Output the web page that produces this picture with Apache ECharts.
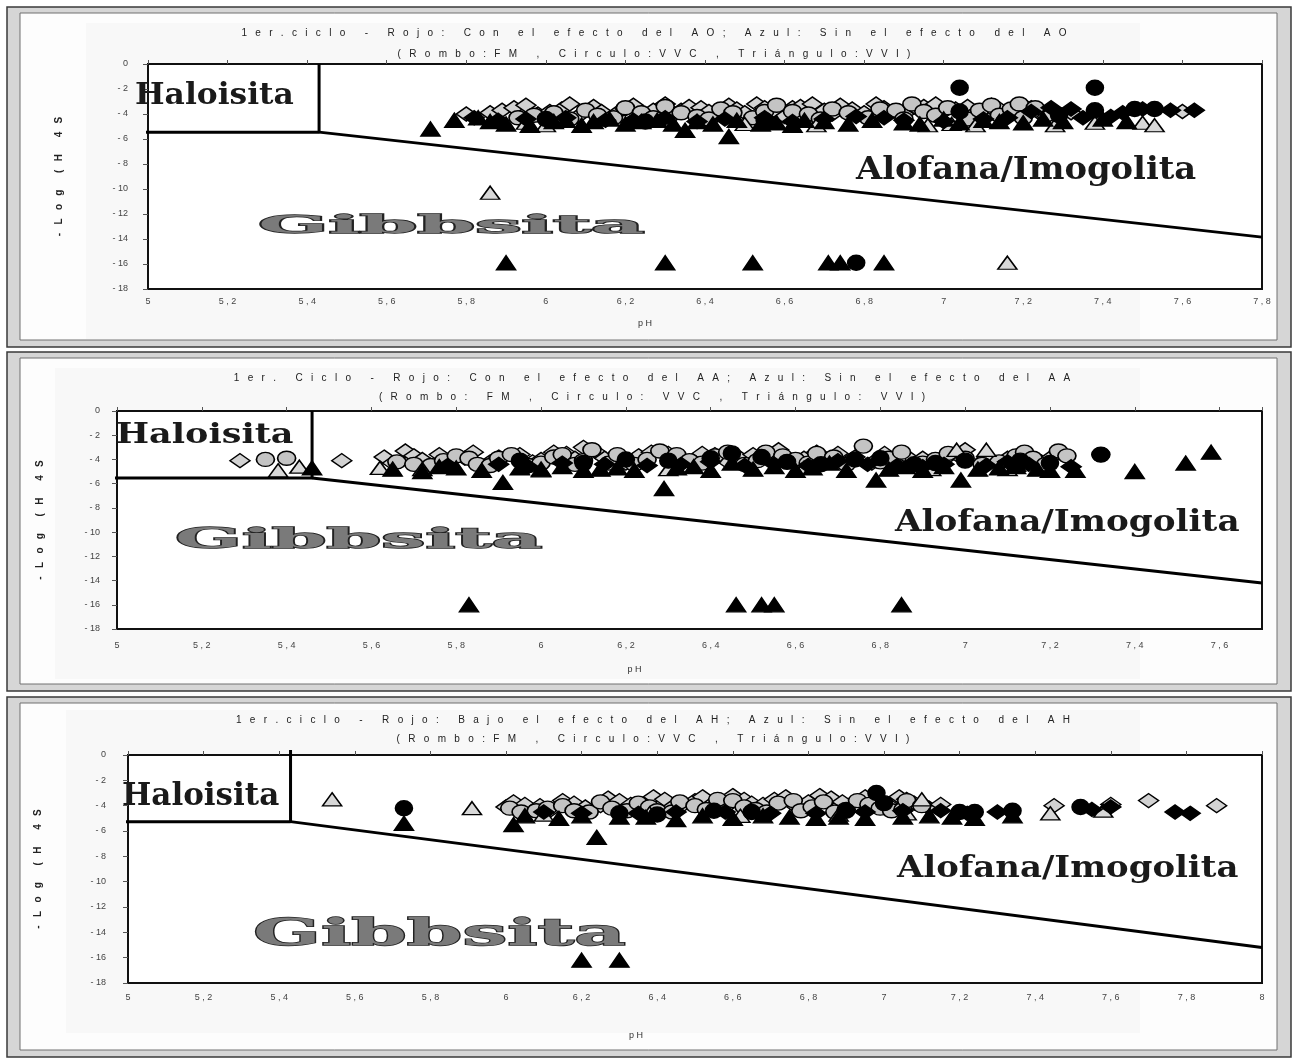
<!DOCTYPE html>
<html><head><meta charset="utf-8">
<script src="https://cdn.jsdelivr.net/npm/echarts@6/dist/echarts.min.js"></script>
<style>html,body{margin:0;padding:0;background:#fff}#c{width:1293px;height:1060px}</style>
</head><body><div id="c"></div>
<script>
// ---------------- DATA ----------------
const titles1 = [
  "1er.ciclo - Rojo: Con el efecto del AO; Azul: Sin el efecto del AO",
  "1er. Ciclo - Rojo: Con el efecto del AA; Azul: Sin el efecto del AA",
  "1er.ciclo - Rojo: Bajo el efecto del AH; Azul: Sin el efecto del AH"
];
const titles2 = [
  "(Rombo:FM , Circulo:VVC , Triángulo:VVI)",
  "(Rombo: FM , Circulo: VVC , Triángulo: VVI)",
  "(Rombo:FM , Circulo:VVC , Triángulo:VVI)"
];
const yName = "-Log (H4S";
const xName = "pH";
const zoneNames = ["Haloisita", "Alofana/Imogolita", "Gibbsita"];
const xMax = [7.8, 7.7, 8];

// boundaries: [pH, -log]
const p1Halo = [[4.92, -5.45], [5.43, -5.45], [5.43, 0]];
const p1Diag = [[5.43, -5.45], [7.8, -13.85]];
const p2Halo = [[4.97, -5.53], [5.46, -5.53], [5.46, 0]];
const p2Diag = [[5.46, -5.53], [7.7, -14.2]];
const p3Halo = [[4.94, -5.26], [5.43, -5.26], [5.43, 0.4]];
const p3Diag = [[5.43, -5.26], [8.0, -15.2]];

// Panel 1 (AO)
const p1FmSin = [[5.8,-4.0],[5.86,-3.9],[5.89,-3.7],[5.92,-3.5],[5.95,-3.3],[5.98,-4.0],[6.01,-3.8],[6.04,-3.6],[6.06,-3.2],[6.08,-4.2],[6.12,-3.4],[6.14,-3.8],[6.18,-3.9],[6.2,-3.6],[6.22,-3.3],[6.25,-4.0],[6.27,-3.7],[6.3,-3.2],[6.32,-4.1],[6.34,-3.7],[6.36,-3.4],[6.39,-3.5],[6.41,-3.8],[6.44,-4.0],[6.46,-3.3],[6.48,-3.6],[6.5,-3.9],[6.53,-3.2],[6.55,-3.5],[6.57,-3.8],[6.6,-4.2],[6.62,-3.5],[6.64,-3.4],[6.67,-3.2],[6.7,-3.7],[6.72,-4.0],[6.74,-3.3],[6.77,-3.6],[6.8,-3.9],[6.83,-3.2],[6.85,-3.5],[6.88,-3.8],[6.9,-4.0],[6.93,-3.5],[6.95,-3.4],[6.98,-3.2],[7.0,-3.8],[7.03,-3.6],[7.06,-3.4],[7.08,-3.9],[7.1,-4.2],[7.12,-3.3],[7.14,-3.6],[7.17,-3.9],[7.2,-3.3],[7.22,-3.5],[7.24,-3.9],[7.26,-4.2],[7.32,-3.9],[7.6,-3.8]];
const p1FmCon = [[5.82,-4.3],[5.88,-4.5],[5.95,-4.4],[6.05,-4.3],[6.15,-4.5],[6.22,-4.5],[6.3,-4.3],[6.38,-4.6],[6.45,-4.4],[6.55,-4.3],[6.62,-4.6],[6.7,-4.4],[6.78,-4.2],[6.85,-4.3],[6.9,-4.5],[7.0,-4.6],[7.1,-4.4],[7.16,-4.3],[7.22,-3.8],[7.27,-3.5],[7.32,-3.6],[7.35,-4.3],[7.42,-4.2],[7.45,-3.9],[7.5,-3.6],[7.57,-3.7],[7.63,-3.7]];
const p1VvcSin = [[5.93,-4.3],[5.97,-4.1],[6.02,-3.9],[6.06,-4.4],[6.1,-3.7],[6.13,-4.1],[6.17,-4.3],[6.2,-3.5],[6.24,-3.9],[6.27,-4.3],[6.3,-3.4],[6.34,-3.9],[6.38,-4.2],[6.41,-4.4],[6.44,-3.6],[6.47,-3.9],[6.52,-4.3],[6.55,-3.8],[6.58,-3.3],[6.62,-3.8],[6.66,-4.0],[6.69,-4.4],[6.72,-3.6],[6.76,-3.9],[6.81,-4.3],[6.84,-3.6],[6.88,-3.7],[6.9,-4.4],[6.92,-3.2],[6.95,-3.8],[6.98,-4.1],[7.01,-3.5],[7.06,-4.4],[7.09,-3.7],[7.12,-3.3],[7.14,-4.1],[7.17,-3.6],[7.19,-3.2],[7.2,-4.3],[7.23,-3.5]];
const p1VvcCon = [[7.04,-1.9],[7.38,-1.9],[7.04,-3.8],[7.29,-4.1],[7.38,-3.7],[7.48,-3.6],[7.53,-3.6],[6.0,-4.4],[6.25,-4.6],[6.55,-4.5],[6.78,-15.9]];
const p1VviSin = [[5.86,-10.3],[7.16,-15.9],[5.95,-4.7],[6.0,-4.9],[6.22,-4.6],[6.5,-4.8],[6.68,-4.9],[6.96,-4.9],[7.02,-4.8],[7.08,-4.9],[7.28,-4.9],[7.38,-4.7],[7.5,-4.7],[7.53,-4.9]];
const p1VviCon = [[5.71,-5.2],[5.77,-4.5],[5.83,-4.3],[5.86,-4.6],[5.9,-4.8],[5.9,-15.9],[5.96,-4.9],[6.02,-4.6],[6.05,-4.5],[6.09,-4.9],[6.12,-4.6],[6.16,-4.4],[6.2,-4.8],[6.24,-4.6],[6.28,-4.5],[6.3,-15.9],[6.32,-4.8],[6.35,-5.3],[6.38,-4.6],[6.42,-4.8],[6.46,-5.8],[6.48,-4.5],[6.52,-15.9],[6.54,-4.8],[6.58,-4.7],[6.62,-4.9],[6.65,-4.5],[6.7,-4.6],[6.71,-15.9],[6.74,-15.9],[6.76,-4.8],[6.82,-4.5],[6.85,-15.9],[6.9,-4.7],[6.94,-4.8],[7.0,-4.4],[7.04,-4.7],[7.1,-4.5],[7.14,-4.6],[7.2,-4.7],[7.25,-4.4],[7.3,-4.6],[7.4,-4.4],[7.46,-4.6]];

// Panel 2 (AA)
const p2FmSin = [[5.29,-4.1],[5.53,-4.1],[5.63,-3.8],[5.65,-4.3],[5.68,-3.3],[5.7,-3.7],[5.72,-4.0],[5.76,-3.6],[5.78,-4.2],[5.82,-3.9],[5.84,-3.4],[5.88,-4.2],[5.9,-3.8],[5.95,-3.6],[5.98,-4.2],[6.0,-4.0],[6.03,-3.4],[6.06,-3.5],[6.08,-3.9],[6.1,-3.0],[6.13,-3.4],[6.15,-3.9],[6.18,-4.1],[6.2,-4.3],[6.23,-3.7],[6.26,-3.4],[6.3,-3.5],[6.33,-3.9],[6.35,-4.2],[6.38,-3.5],[6.41,-3.6],[6.44,-4.2],[6.47,-3.9],[6.5,-3.6],[6.53,-3.7],[6.56,-3.2],[6.59,-4.1],[6.62,-3.9],[6.65,-3.4],[6.7,-3.5],[6.74,-3.8],[6.78,-4.3],[6.81,-3.5],[6.86,-3.7],[6.9,-3.9],[6.95,-4.0],[6.98,-3.6],[7.0,-3.2],[7.05,-3.9],[7.1,-3.9],[7.14,-3.6],[7.18,-4.2],[7.2,-3.9]];
const p2FmCon = [[5.78,-4.5],[5.9,-4.4],[5.97,-4.6],[6.05,-4.3],[6.15,-4.4],[6.25,-4.5],[6.33,-4.4],[6.4,-4.2],[6.48,-4.5],[6.55,-4.4],[6.63,-4.5],[6.7,-4.1],[6.77,-4.4],[6.84,-4.5],[6.9,-4.6],[6.95,-4.4],[7.05,-4.5],[7.1,-4.2],[7.15,-4.4],[7.25,-4.6]];
const p2VvcSin = [[5.35,-4.0],[5.40,-3.9],[5.66,-4.2],[5.7,-4.4],[5.74,-4.5],[5.77,-4.1],[5.8,-3.7],[5.83,-3.9],[5.85,-4.4],[5.88,-4.5],[5.9,-3.9],[5.93,-3.6],[5.97,-4.5],[6.0,-4.3],[6.03,-3.8],[6.05,-3.6],[6.08,-4.4],[6.1,-4.1],[6.12,-3.2],[6.16,-4.3],[6.18,-3.6],[6.22,-4.4],[6.25,-4.0],[6.28,-3.3],[6.32,-3.6],[6.35,-4.1],[6.38,-4.3],[6.41,-3.7],[6.44,-3.4],[6.48,-4.4],[6.51,-4.1],[6.53,-3.4],[6.57,-3.7],[6.6,-4.0],[6.63,-4.3],[6.65,-3.5],[6.69,-3.8],[6.72,-4.4],[6.76,-2.9],[6.8,-4.2],[6.82,-3.9],[6.85,-3.4],[6.9,-4.3],[6.93,-4.0],[6.96,-3.5],[7.0,-3.9],[7.04,-4.4],[7.08,-4.2],[7.12,-3.7],[7.14,-3.4],[7.16,-3.9],[7.19,-4.4],[7.22,-3.3],[7.24,-3.7],[7.32,-3.6]];
const p2VvcCon = [[5.95,-4.1],[6.1,-4.3],[6.2,-4.0],[6.3,-4.1],[6.4,-3.9],[6.45,-3.5],[6.52,-3.8],[6.58,-4.2],[6.66,-4.4],[6.74,-4.0],[6.8,-3.9],[6.88,-4.4],[6.93,-4.3],[7.0,-4.1],[7.13,-4.1],[7.2,-4.3],[7.32,-3.6]];
const p2VviSin = [[5.38,-4.9],[5.43,-4.6],[5.62,-4.7],[5.72,-4.8],[6.0,-4.9],[6.3,-4.8],[6.62,-4.7],[6.98,-3.2],[7.05,-3.2],[6.92,-4.8],[7.1,-4.8]];
const p2VviCon = [[5.46,-4.7],[5.65,-4.8],[5.72,-5.0],[5.76,-4.6],[5.8,-4.7],[5.86,-4.9],[5.91,-5.9],[5.95,-4.7],[6.0,-4.8],[6.05,-4.6],[6.1,-4.9],[6.14,-4.8],[6.18,-4.7],[6.22,-4.9],[6.29,-6.4],[6.32,-4.7],[6.36,-4.6],[6.4,-4.9],[6.45,-4.3],[6.5,-4.8],[6.55,-4.6],[6.6,-4.9],[6.64,-4.7],[6.68,-4.3],[6.72,-4.9],[6.79,-5.7],[6.82,-4.8],[6.86,-4.6],[6.9,-4.9],[6.95,-4.6],[6.99,-5.7],[7.03,-4.8],[7.08,-4.7],[7.12,-4.6],[7.12,-4.4],[7.17,-4.8],[7.2,-4.9],[7.26,-4.9],[7.4,-5.0],[7.52,-4.3],[7.58,-3.4],[5.83,-16],[6.46,-16],[6.52,-16],[6.55,-16],[6.85,-16]];

// Panel 3 (AH)
const p3FmSin = [[6.0,-4.1],[6.02,-3.7],[6.05,-3.9],[6.09,-4.0],[6.12,-4.3],[6.15,-3.6],[6.18,-3.8],[6.21,-4.1],[6.25,-4.0],[6.27,-3.4],[6.3,-3.6],[6.33,-3.9],[6.36,-4.3],[6.39,-3.3],[6.42,-3.5],[6.44,-4.1],[6.47,-3.9],[6.5,-3.6],[6.52,-3.3],[6.55,-4.0],[6.58,-4.1],[6.6,-3.2],[6.63,-3.5],[6.65,-3.8],[6.68,-3.9],[6.71,-3.5],[6.74,-3.3],[6.77,-4.1],[6.8,-3.7],[6.83,-3.2],[6.86,-3.4],[6.89,-3.7],[6.92,-4.0],[6.95,-3.3],[6.98,-3.6],[7.01,-3.9],[7.04,-3.3],[7.06,-3.5],[7.08,-3.8],[7.12,-4.2],[7.15,-3.9],[7.45,-4.0],[7.6,-3.9],[7.7,-3.6],[7.88,-4.0]];
const p3FmCon = [[6.1,-4.5],[6.2,-4.6],[6.35,-4.6],[6.45,-4.5],[6.58,-4.5],[6.7,-4.6],[6.82,-4.6],[6.95,-4.5],[7.05,-4.4],[7.15,-4.4],[7.22,-4.6],[7.3,-4.5],[7.55,-4.3],[7.6,-4.1],[7.77,-4.5],[7.81,-4.6]];
const p3VvcSin = [[6.01,-4.2],[6.04,-4.5],[6.08,-4.4],[6.11,-4.2],[6.15,-4.0],[6.18,-4.4],[6.22,-4.5],[6.25,-3.7],[6.28,-4.2],[6.32,-4.4],[6.35,-3.8],[6.38,-4.1],[6.4,-4.4],[6.44,-4.5],[6.46,-3.7],[6.5,-4.0],[6.53,-4.3],[6.56,-3.5],[6.6,-3.6],[6.63,-4.1],[6.66,-4.3],[6.69,-4.5],[6.72,-3.8],[6.76,-3.6],[6.78,-4.4],[6.81,-4.1],[6.84,-3.7],[6.87,-4.5],[6.9,-4.3],[6.93,-3.6],[6.96,-3.9],[6.99,-4.2],[7.02,-4.4],[7.05,-4.3],[7.06,-3.6],[7.1,-4.0]];
const p3VvcCon = [[5.73,-4.2],[6.3,-4.6],[6.4,-4.7],[6.55,-4.4],[6.65,-4.5],[6.9,-4.4],[6.98,-3.0],[7.0,-3.8],[7.2,-4.5],[7.24,-4.5],[7.34,-4.4],[7.52,-4.1]];
const p3VviSin = [[5.54,-3.5],[5.91,-4.2],[6.1,-4.7],[6.38,-4.6],[6.62,-4.8],[6.88,-4.7],[7.06,-4.6],[7.1,-3.5],[7.44,-4.6],[7.58,-4.4]];
const p3VviCon = [[5.73,-5.4],[6.02,-5.5],[6.05,-4.8],[6.14,-5.0],[6.2,-4.8],[6.24,-6.5],[6.2,-16.2],[6.3,-16.2],[6.3,-4.9],[6.37,-4.9],[6.45,-5.1],[6.52,-4.8],[6.6,-5.0],[6.68,-4.8],[6.75,-4.9],[6.82,-5.0],[6.88,-4.9],[6.95,-5.0],[7.05,-4.9],[7.12,-4.8],[7.18,-4.9],[7.24,-5.0],[7.34,-4.8]];

const panelsData = [
  {halo:p1Halo, diag:p1Diag, fmSin:p1FmSin, fmCon:p1FmCon, vvcSin:p1VvcSin, vvcCon:p1VvcCon, vviSin:p1VviSin, vviCon:p1VviCon},
  {halo:p2Halo, diag:p2Diag, fmSin:p2FmSin, fmCon:p2FmCon, vvcSin:p2VvcSin, vvcCon:p2VvcCon, vviSin:p2VviSin, vviCon:p2VviCon},
  {halo:p3Halo, diag:p3Diag, fmSin:p3FmSin, fmCon:p3FmCon, vvcSin:p3VvcSin, vvcCon:p3VvcCon, vviSin:p3VviSin, vviCon:p3VviCon}
];

// ---------------- LAYOUT ----------------
const layout = [
  {frame:[7,7,1284,340], grid:{left:148, top:64, width:1114, height:225}, t1y:33, t2y:54, tx:654,
   yGap:84, yMargin:20, xMargin:8, xGap:30, xShift:120,
   halo:[135,96,29,1.08], alo:[856,171,31,1.09], gib:[258,226,25,3.3]},
  {frame:[7,352,1284,339], grid:{left:117, top:411, width:1145, height:218}, t1y:378, t2y:397, tx:652,
   yGap:72, yMargin:17, xMargin:12, xGap:36, xShift:110,
   halo:[116,436,28,1.25], alo:[895,523,29,1.18], gib:[175,541,28,2.8]},
  {frame:[7,697,1284,360], grid:{left:128, top:755, width:1134, height:228}, t1y:720, t2y:739, tx:653,
   yGap:85, yMargin:22, xMargin:10, xGap:48, xShift:118,
   halo:[122,797,31,1.0], alo:[897,869,30,1.13], gib:[253,935,37,2.15]}
];

const spaced = s => Array.from(s).join('   ');
const xFmt = v => { const r = Math.round(v*10)/10; return Number.isInteger(r) ? String(r) : r.toFixed(1).replace('.', ' , '); };
const yFmt = v => v === 0 ? '0' : '- ' + Math.abs(v);

const grids = [], xAxes = [], yAxes = [], series = [], graphics = [];
layout.forEach((L, i) => {
  const [fx, fy, fw, fh] = L.frame;
  graphics.push({type:'rect', id:'fo'+i, z:-10, shape:{x:fx, y:fy, width:fw, height:fh}, style:{fill:'#d6d6d6', stroke:'#3a3a3a', lineWidth:1.5}});
  graphics.push({type:'rect', id:'fi'+i, z:-9, shape:{x:fx+13, y:fy+6, width:fw-27, height:fh-13}, style:{fill:'#fdfdfd', stroke:'#707070', lineWidth:1}});
  graphics.push({type:'rect', id:'fp'+i, z:-8, shape:{x:L.grid.left-62, y:L.t1y-10, width:L.grid.width-60, height:L.grid.height+(L.grid.top-L.t1y)+60}, style:{fill:'#f8f8f8'}});
  graphics.push({type:'text', id:'t1'+i, z:5, x:L.tx, y:L.t1y, style:{text:spaced(titles1[i]), font:'10px "Liberation Sans"', fill:'#222', align:'center', verticalAlign:'middle'}});
  graphics.push({type:'text', id:'t2'+i, z:5, x:L.tx, y:L.t2y, style:{text:spaced(titles2[i]), font:'10px "Liberation Sans"', fill:'#222', align:'center', verticalAlign:'middle'}});
  const zoneStyles = [L.halo, L.alo, L.gib];
  zoneNames.forEach((nm, k) => {
    const [zx, zy, fs, sx] = zoneStyles[k];
    const isGib = k === 2;
    graphics.push({type:'text', id:'z'+i+'_'+k, z:1, x:zx, y:zy, scaleX:sx,
      style:{text:nm, font:'bold '+fs+'px "DejaVu Serif"', fill: isGib ? '#7a7a7a' : '#1a1a1a',
        stroke: isGib ? '#222' : null, lineWidth: isGib ? 1.4 : 0,
        align:'left', verticalAlign:'middle',
        shadowColor:'rgba(0,0,0,0.3)', shadowOffsetX:2, shadowOffsetY:4, shadowBlur:0}});
  });

  grids.push({left:L.grid.left, top:L.grid.top, width:L.grid.width, height:L.grid.height,
    show:true, backgroundColor:'#ffffff', borderColor:'#111', borderWidth:2});
  xAxes.push({type:'value', gridIndex:i, min:5, max:xMax[i], interval:0.2, position:'bottom',
    name:'p H', nameLocation:'middle', nameGap:L.xGap,
    nameTextStyle:{fontSize:9, color:'#333', fontFamily:'Liberation Sans', padding:[0, L.xShift, 0, 0]},
    axisLine:{show:true, onZero:false, lineStyle:{color:'#111', width:2}}, axisTick:{show:false},
    axisLabel:{fontSize:9, color:'#444', margin:L.xMargin, formatter:xFmt, showMaxLabel: xMax[i] === 7.7 ? false : true, fontFamily:'Liberation Sans'},
    splitLine:{show:false}});
  xAxes.push({type:'value', gridIndex:i, min:5, max:xMax[i], interval:0.2, position:'top',
    axisLine:{show:true, onZero:false, lineStyle:{color:'#111', width:1.5}},
    axisTick:{show:true, length:4, lineStyle:{color:'#555'}}, axisLabel:{show:false}, splitLine:{show:false}});
  yAxes.push({type:'value', gridIndex:i, min:-18, max:0, interval:2,
    name:'-   L   o   g      (   H      4   S', nameLocation:'middle', nameRotate:90, nameGap:L.yGap,
    nameTextStyle:{fontSize:10, color:'#222', fontWeight:'bold', fontFamily:'Liberation Sans'},
    axisLine:{show:true, onZero:false, lineStyle:{color:'#111', width:2}},
    axisTick:{show:true, length:5, lineStyle:{color:'#555'}},
    axisLabel:{fontSize:9, color:'#444', margin:L.yMargin, formatter:yFmt, fontFamily:'Liberation Sans'},
    splitLine:{show:false}});

  const D = panelsData[i];
  const xi = i*2;
  const lineS = (nm, data) => ({type:'line', name:nm, xAxisIndex:xi, yAxisIndex:i, data, showSymbol:false,
    clip:false, silent:true, z:1, lineStyle:{color:'#000', width:3}});
  series.push(lineS('halo'+i, D.halo), lineS('diag'+i, D.diag));
  const sc = (nm, data, symbol, fill, size, z) => ({type:'scatter', name:nm, xAxisIndex:xi, yAxisIndex:i, data,
    symbol, symbolSize:size, silent:true, z, clip:false,
    itemStyle:{color:fill, borderColor:'#000', borderWidth:1.5, opacity:1}});
  series.push(
    sc('FM sin', D.fmSin, 'diamond', '#d2d2d2', [20,14], 3),
    sc('VVC sin', D.vvcSin, 'circle', '#c4c4c4', [18,14], 4),
    sc('VVI sin', D.vviSin, 'triangle', '#d8d8d8', [19,13], 5),
    sc('FM con', D.fmCon, 'diamond', '#000', [20,14], 6),
    sc('VVC con', D.vvcCon, 'circle', '#000', [17,15], 7),
    sc('VVI con', D.vviCon, 'triangle', '#000', [19,14], 8)
  );
});

const chart = echarts.init(document.getElementById('c'), null, {renderer:'canvas'});
chart.setOption({animation:false, backgroundColor:'#ffffff', grid:grids, xAxis:xAxes, yAxis:yAxes, series, graphic:graphics});
</script></body></html>
